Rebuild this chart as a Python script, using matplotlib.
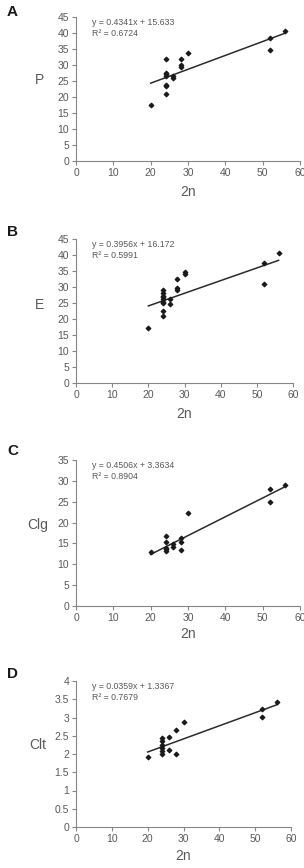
import matplotlib
matplotlib.use("Agg")
import matplotlib.pyplot as plt
import numpy as np

plt.rcParams['font.family'] = ['Liberation Sans', 'DejaVu Sans']

# data
x_A = [20, 24, 24, 24, 24, 24, 24, 24, 26, 26, 28, 28, 28, 30, 52, 52, 56]
y_A = [17.5, 31.9, 27.6, 27.1, 26.6, 23.9, 23.4, 20.8, 26.5, 25.8, 31.9, 30.1, 29.5, 33.8, 38.5, 34.6, 40.5]

x_B = [20, 24, 24, 24, 24, 24, 24, 24, 24, 24, 26, 26, 28, 28, 28, 30, 30, 52, 52, 56]
y_B = [17.3, 29.1, 28.0, 27.3, 26.8, 26.1, 25.4, 25.0, 22.4, 20.8, 26.4, 24.6, 32.4, 29.7, 29.0, 34.6, 34.2, 37.6, 30.9, 40.5]

x_C = [20, 24, 24, 24, 24, 24, 26, 26, 28, 28, 28, 30, 52, 52, 56]
y_C = [12.9, 16.9, 15.4, 14.0, 13.6, 13.2, 14.9, 14.2, 16.4, 15.4, 13.4, 22.2, 28.0, 25.0, 29.1]

x_D = [20, 24, 24, 24, 24, 24, 24, 26, 26, 28, 28, 30, 52, 52, 56]
y_D = [1.93, 2.44, 2.35, 2.26, 2.17, 2.08, 1.99, 2.46, 2.10, 2.65, 2.01, 2.87, 3.22, 3.02, 3.42]

letters = ['A', 'B', 'C', 'D']
ylabels = ['P', 'E', 'Clg', 'Clt']
slopes = [0.4341, 0.3956, 0.4506, 0.0359]
intercepts = [15.633, 16.172, 3.3634, 1.3367]
r2 = ['0.6724', '0.5991', '0.8904', '0.7679']
ymax = [45, 45, 35, 4]
ystep = [5, 5, 5, 0.5]
xs = [x_A, x_B, x_C, x_D]
ys = [y_A, y_B, y_C, y_D]

W, H = 304, 868
# axes boxes in pixels: left, right, top, bottom
boxes = [(76, 300, 17, 161), (76, 293, 239, 383), (76, 300, 460, 606), (76, 291, 681, 827)]
ylab_pos = [(39, 80), (39, 305), (38, 525), (38, 745)]
xlab_y = [192, 414, 634, 856]
letter_y = [12, 232, 451, 674]

axc = '#868686'
txc = '#595959'

fig = plt.figure(figsize=(W / 100, H / 100), dpi=100)

for i in range(4):
    l, r, t, b = boxes[i]
    ax = fig.add_axes([l / W, 1 - b / H, (r - l) / W, (b - t) / H])
    ax.scatter(xs[i], ys[i], marker='D', s=5, color='#1a1a1a', zorder=3)
    xl = np.array([min(xs[i]), max(xs[i])])
    ax.plot(xl, slopes[i] * xl + intercepts[i], color='#2b2b2b', lw=1.1)
    ax.set_xlim(0, 60)
    ax.set_ylim(0, ymax[i])
    ax.set_xticks(np.arange(0, 61, 10))
    yt = np.arange(0, ymax[i] + ystep[i] / 2, ystep[i])
    ax.set_yticks(yt)
    if ystep[i] < 1:
        ax.set_yticklabels(['%g' % v for v in yt])
    for s in ['top', 'right']:
        ax.spines[s].set_visible(False)
    for s in ['left', 'bottom']:
        ax.spines[s].set_color(axc)
        ax.spines[s].set_linewidth(0.8)
    ax.tick_params(colors=axc, labelcolor=txc, labelsize=7.5, length=3, width=0.8, pad=2)
    ax.set_xlabel('2n', fontsize=10, color=txc, va='center')
    ax.xaxis.set_label_coords(0.5, -(xlab_y[i] - b) / (b - t))
    ax.set_ylabel(ylabels[i], fontsize=10, color=txc, rotation=0, va='center', ha='center')
    px, py = ylab_pos[i]
    ax.yaxis.set_label_coords((px - l) / (r - l), (b - py) / (b - t))
    ax.text((92 - l) / (r - l), (b - (t + 1)) / (b - t),
            'y = %sx + %s\nR² = %s' % (slopes[i], intercepts[i], r2[i]),
            transform=ax.transAxes, fontsize=6.3, color=txc, va='top', ha='left',
            linespacing=1.3)
    fig.text(7 / W, 1 - letter_y[i] / H, letters[i], fontsize=11, fontweight='bold',
             color='#1a1a1a', va='center', ha='left')

fig.savefig('out.png', dpi=100)
